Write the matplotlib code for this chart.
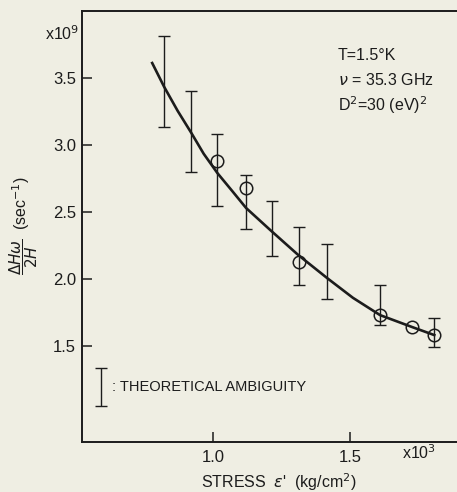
#!/usr/bin/env python3
"""Linewidth vs stress, T = 1.5 K (scanned figure recreation)."""
import matplotlib
matplotlib.use("Agg")
import matplotlib.pyplot as plt

# stress in units of 10^3 kg/cm^2, linewidth in 10^9 sec^-1
circle_x = [1.015, 1.120, 1.314, 1.609, 1.726, 1.807]
circle_y = [2.881, 2.679, 2.127, 1.731, 1.642, 1.582]

# theoretical ambiguity bars: x, low, high
bar_x = [0.821, 0.920, 1.015, 1.120, 1.215, 1.314, 1.416, 1.609, 1.807]
bar_lo = [3.134, 2.799, 2.545, 2.373, 2.172, 1.955, 1.851, 1.657, 1.493]
bar_hi = [3.813, 3.403, 3.082, 2.776, 2.582, 2.388, 2.261, 1.955, 1.709]

# calculated curve
curve_x = [0.777, 0.821, 0.870, 0.920, 0.965, 1.015, 1.070, 1.120, 1.208,
           1.310, 1.416, 1.510, 1.609, 1.726, 1.807]
curve_y = [3.612, 3.433, 3.255, 3.090, 2.935, 2.791, 2.655, 2.530, 2.366,
           2.180, 2.007, 1.860, 1.731, 1.642, 1.582]

x_ticks = [1.0, 1.5]
y_ticks = [1.5, 2.0, 2.5, 3.0, 3.5]

legend_x = 0.591
legend_lo = 1.052
legend_hi = 1.336

INK = "#1c1c1c"
PAPER = "#efeee3"

plt.rcParams["font.family"] = ["Liberation Sans", "DejaVu Sans"]
plt.rcParams["mathtext.fontset"] = "dejavusans"

fig = plt.figure(figsize=(4.57, 4.92), dpi=100, facecolor=PAPER)
ax = fig.add_axes([0.179, 0.1016, 0.821, 0.876], facecolor=PAPER)

ax.plot(curve_x, curve_y, color=INK, lw=1.9)
for x, lo, hi in zip(bar_x, bar_lo, bar_hi):
    ax.errorbar([x], [(lo + hi) / 2], yerr=[[(hi - lo) / 2], [(hi - lo) / 2]],
                fmt="none", ecolor=INK, elinewidth=1.0, capsize=4, capthick=1.0)
ax.plot(circle_x, circle_y, "o", ms=9, mfc="none", mec=INK, mew=1.1)

# legend bar
ax.errorbar([legend_x], [(legend_lo + legend_hi) / 2],
            yerr=[[(legend_hi - legend_lo) / 2], [(legend_hi - legend_lo) / 2]],
            fmt="none", ecolor=INK, elinewidth=1.0, capsize=4, capthick=1.0)
ax.text(legend_x + 0.04, (legend_lo + legend_hi) / 2, ": THEORETICAL AMBIGUITY",
        fontsize=10.5, color=INK, va="center", ha="left")

ax.text(1.455, 3.67, "T=1.5°K", fontsize=11.5, color=INK, va="center")
ax.text(1.455, 3.485, r"$\nu$ = 35.3 GHz", fontsize=11.5, color=INK, va="center")
ax.text(1.455, 3.30, r"D$^2$=30 (eV)$^2$", fontsize=11.5, color=INK, va="center")

ax.set_xlim(0.52, 1.89)
ax.set_ylim(0.784, 4.0)
ax.set_xticks(x_ticks)
ax.set_xticklabels([f"{v:.1f}" for v in x_ticks])
ax.set_yticks(y_ticks)
ax.set_yticklabels([f"{v:.1f}" for v in y_ticks])
ax.tick_params(direction="in", length=7, width=1.1, color=INK,
               labelcolor=INK, labelsize=12, pad=4)
ax.tick_params(axis="x", pad=6)
for side in ["left", "bottom", "top"]:
    ax.spines[side].set_color(INK)
    ax.spines[side].set_linewidth(1.4)
ax.spines["right"].set_visible(False)

fig.text(0.098, 0.932, r"x10$^9$", fontsize=11.5, color=INK, va="center")
fig.text(0.88, 0.079, r"x10$^3$", fontsize=11.5, color=INK, va="center")
fig.text(0.61, 0.02, r"STRESS  $\epsilon$'  (kg/cm$^2$)", fontsize=11.5,
         color=INK, ha="center", va="center")
# y label: fraction with unit above it
fig.text(0.051, 0.478, r"$\dfrac{\Delta H\omega}{2H}$", fontsize=11,
         color=INK, rotation=90, ha="center", va="center")
fig.text(0.047, 0.587, r"(sec$^{-1}$)", fontsize=11.5,
         color=INK, rotation=90, ha="center", va="center")

fig.savefig("out.png", dpi=100, facecolor=PAPER)
plt.close(fig)
